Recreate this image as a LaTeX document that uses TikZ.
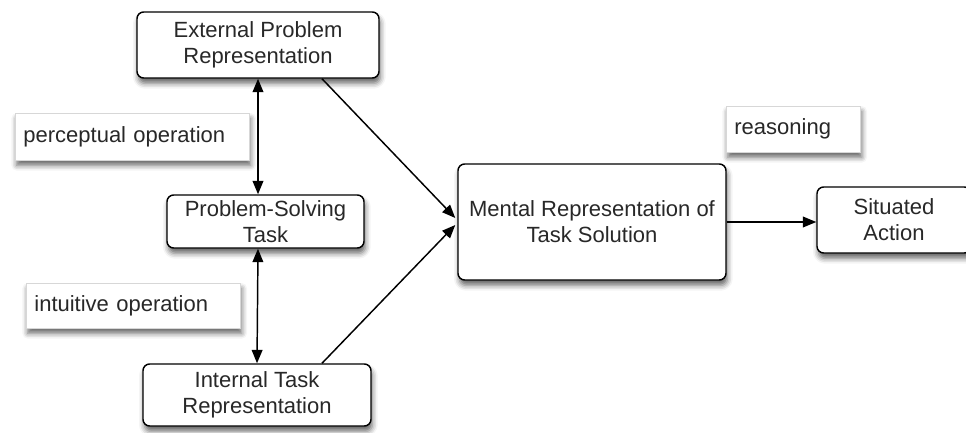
\documentclass[tikz,border=0pt]{standalone}
\usepackage{fontspec}
\setmainfont{Liberation Sans}
\usepackage{tikz}
\usetikzlibrary{positioning,arrows.meta,calc,shadows.blur}
\definecolor{txtgray}{RGB}{40,40,40}
\definecolor{labline}{RGB}{215,215,215}
\tikzset{
  box/.style={draw=black,line width=1.1pt,rounded corners=5pt,fill=white,align=center,
    text=txtgray,inner sep=0pt,
    blur shadow={shadow xshift=1pt,shadow yshift=-4pt,shadow blur radius=4pt,shadow opacity=60}},
  lab/.style={draw=labline,line width=0.6pt,fill=white,align=left,text=txtgray,
    inner xsep=6pt,inner ysep=0pt,anchor=west,
    blur shadow={shadow xshift=1pt,shadow yshift=-4pt,shadow blur radius=4pt,shadow opacity=60}},
  arr/.style={line width=1.1pt,-{Triangle[length=10pt,width=8pt]}},
  dbl/.style={line width=1.1pt,{Triangle[length=10pt,width=8pt]}-{Triangle[length=10pt,width=8pt]}},
  every node/.style={font=\fontsize{16.5}{19.5}\selectfont}
}
\begin{document}
\begin{tikzpicture}[x=0.75pt,y=-0.75pt]
  \useasboundingbox (0,0) rectangle (966,432);
  % boxes
  \node[box,minimum width=242*0.75pt,minimum height=66*0.75pt] (ext) at (258,45) {External Problem\\Representation};
  \node[box,minimum width=197*0.75pt,minimum height=53*0.75pt] (pst) at (265.5,221.5) {Problem-Solving\\Task};
  \node[box,minimum width=228*0.75pt,minimum height=62*0.75pt] (int) at (257,395) {Internal Task\\Representation};
  \node[box,minimum width=268*0.75pt,minimum height=116*0.75pt] (men) at (592,222) {Mental Representation of\\Task Solution};
  \node[box,minimum width=154*0.75pt,minimum height=66*0.75pt] (sit) at (894,220) {Situated\\Action};
  % labels
  \node[lab,minimum width=230*0.75pt,minimum height=47*0.75pt,text width=218*0.75pt] (perc) at (15,136.5) {perceptual operation};
  \node[lab,minimum width=210*0.75pt,minimum height=45*0.75pt,text width=198*0.75pt] (intu) at (26,305.5) {intuitive operation};
  \node[lab,minimum width=130*0.75pt,minimum height=46*0.75pt,text width=118*0.75pt] (reas) at (726,129) {reasoning};
  % connectors
  \draw[dbl] (ext.south) -- (ext.south |- pst.north);
  \draw[dbl] (ext.south |- pst.south) -- (int.north);
  \draw[arr] ($(ext.south)+(64,0)$) -- ($(men.west)+(-2,-4)$);
  \draw[arr] ($(int.north)+(65,0)$) -- ($(men.west)+(-2,3)$);
  \draw[arr] (men.east) -- (men.east -| sit.west);
\end{tikzpicture}
\end{document}
